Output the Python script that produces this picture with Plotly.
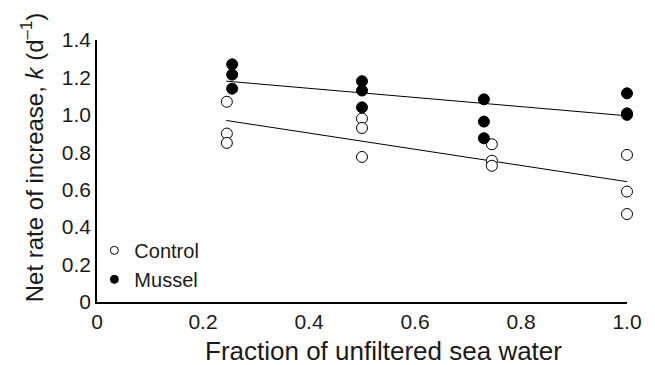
import plotly.graph_objects as go

# Data
control_x = [0.245, 0.245, 0.245, 0.50, 0.50, 0.50, 0.745, 0.745, 0.745, 1.0, 1.0, 1.0]
control_y = [1.07, 0.90, 0.85, 0.98, 0.93, 0.775, 0.843, 0.755, 0.728, 0.786, 0.59, 0.47]
mussel_x = [0.255, 0.255, 0.255, 0.50, 0.50, 0.50, 0.73, 0.73, 0.73, 1.0, 1.0, 1.0]
mussel_y = [1.27, 1.215, 1.14, 1.18, 1.13, 1.04, 1.083, 0.964, 0.875, 1.115, 1.008, 1.0]
fit_x = [0.244, 1.0]
control_fit = [0.97, 0.643]
mussel_fit = [1.18, 0.995]

x_ticks = [0, 0.2, 0.4, 0.6, 0.8, 1.0]
x_tick_text = ["0", "0.2", "0.4", "0.6", "0.8", "1.0"]
y_ticks = [0, 0.2, 0.4, 0.6, 0.8, 1.0, 1.2, 1.4]
y_tick_text = ["0", "0.2", "0.4", "0.6", "0.8", "1.0", "1.2", "1.4"]

FONT = "Liberation Sans, Arial, Helvetica, sans-serif"

fig = go.Figure()
fig.add_trace(go.Scatter(x=fit_x, y=mussel_fit, mode="lines",
                         line=dict(color="black", width=1), showlegend=False, hoverinfo="skip"))
fig.add_trace(go.Scatter(x=fit_x, y=control_fit, mode="lines",
                         line=dict(color="black", width=1), showlegend=False, hoverinfo="skip"))
fig.add_trace(go.Scatter(x=control_x, y=control_y, mode="markers", name="Control",
                         marker=dict(symbol="circle", size=11, color="white",
                                     line=dict(color="black", width=1)),
                         showlegend=False, cliponaxis=False))
fig.add_trace(go.Scatter(x=mussel_x, y=mussel_y, mode="markers", name="Mussel",
                         marker=dict(symbol="circle", size=11, color="black",
                                     line=dict(color="black", width=1)),
                         showlegend=False, cliponaxis=False))
# legend entries (smaller symbols)
fig.add_trace(go.Scatter(x=[None], y=[None], mode="markers", name="Control",
                         marker=dict(symbol="circle", size=8, color="white",
                                     line=dict(color="black", width=1))))
fig.add_trace(go.Scatter(x=[None], y=[None], mode="markers", name="Mussel",
                         marker=dict(symbol="circle", size=8, color="black",
                                     line=dict(color="black", width=1))))

fig.update_layout(
    width=647, height=357,
    margin=dict(l=89, r=28, t=32, b=63),
    paper_bgcolor="white", plot_bgcolor="white",
    font=dict(family=FONT, size=20, color="#1a1a1a"),
    showlegend=True,
    legend=dict(x=-0.005, y=0.012, xanchor="left", yanchor="bottom",
                bgcolor="rgba(0,0,0,0)", font=dict(size=20, family=FONT),
                itemsizing="trace", tracegroupgap=0),
    xaxis=dict(range=[0, 1.0], tickvals=x_ticks, ticktext=x_tick_text,
               showgrid=False, zeroline=False, showline=True,
               linecolor="black", linewidth=1.5, ticks="",
               tickfont=dict(size=21), automargin=False),
    yaxis=dict(range=[0, 1.4], tickvals=y_ticks, ticktext=y_tick_text,
               showgrid=False, zeroline=False, showline=True,
               linecolor="black", linewidth=1.5, ticks="",
               tickfont=dict(size=21), automargin=False),
    annotations=[
        dict(text="Fraction of unfiltered sea water", xref="paper", yref="paper",
             x=0.5415, y=-0.187, xanchor="center", yanchor="middle",
             showarrow=False, font=dict(size=26, family=FONT, color="#1a1a1a")),
        dict(text="Net rate of increase, <i>k</i> (d<sup>–1</sup>)", xref="paper", yref="paper",
             x=-0.122, y=0.55, xanchor="center", yanchor="middle", textangle=-90,
             showarrow=False, font=dict(size=24, family=FONT, color="#1a1a1a")),
    ],
)

fig.write_html("out.html")
